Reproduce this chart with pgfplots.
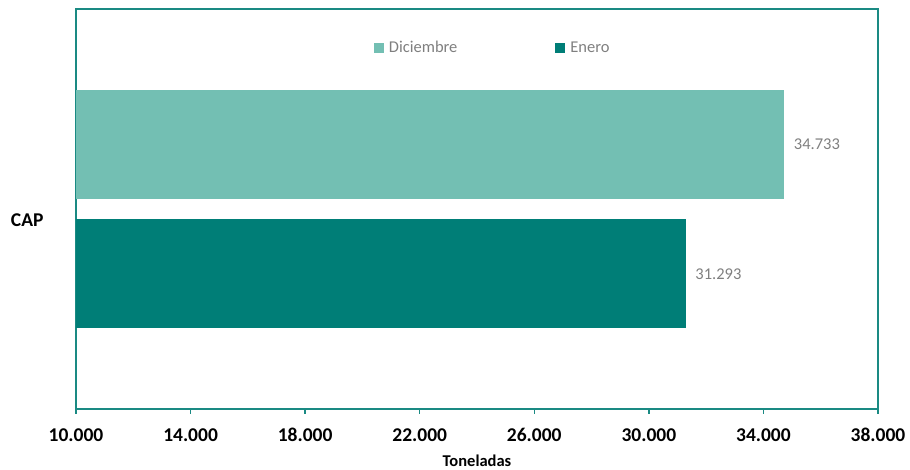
\documentclass[border=0pt]{standalone}
\usepackage{fontspec}
\setmainfont{Carlito}
\usepackage{pgfplots}
\pgfplotsset{compat=1.18}

\definecolor{dic}{HTML}{73BFB3}
\definecolor{ene}{HTML}{007E77}
\definecolor{axisteal}{HTML}{1A8A83}
\definecolor{txtgrey}{HTML}{7F7F7F}

\begin{document}
\begin{tikzpicture}
\path[use as bounding box] (-76pt,-61pt) rectangle (834pt,409pt);
\begin{axis}[
  at={(0,0)}, anchor=south west,
  scale only axis, width=802pt, height=400pt,
  xbar,
  xmin=10000, xmax=38000,
  ymin=-2, ymax=2,
  xtick={10000,14000,...,38000},
  scaled x ticks=false,
  xtick pos=bottom, tick align=outside,
  major tick length=5pt,
  ytick={0}, yticklabels={CAP},
  ytick style={draw=none},
  yticklabel style={font=\fontsize{19.5}{22}\selectfont\bfseries, xshift=-24pt, yshift=-11pt},
  xticklabel style={font=\fontsize{19.5}{22}\selectfont\bfseries, yshift=-11pt},
  /pgf/number format/.cd, fixed, precision=0, 1000 sep={.}, assume math mode=true,
  /pgfplots/.cd,
  axis line style={axisteal, line width=1.6pt},
  every tick/.style={axisteal, line width=1.4pt},
  xlabel={Toneladas},
  xlabel style={font=\fontsize{16.5}{18}\selectfont\bfseries, yshift=-6pt},
  bar width=1.09,
  nodes near coords,
  nodes near coords style={font=\fontsize{16.5}{19}\selectfont, text=txtgrey, anchor=west, xshift=6pt,
    /pgf/number format/.cd, fixed, precision=0, 1000 sep={.}, assume math mode=true},
  legend columns=2,
  legend style={draw=none, fill=none, at={(0.519,0.9025)}, anchor=center,
    font=\fontsize{16.5}{19}\selectfont, text=txtgrey,
    /tikz/every even column/.append style={column sep=97pt},
    nodes={inner sep=1pt}},
  legend image code/.code={\fill[#1, draw=none] (0pt,-5pt) rectangle (10pt,5pt);},
  legend style={/tikz/every odd column/.append style={column sep=4pt}},
]
\addplot[fill=dic, draw=none, bar shift=0.645] coordinates {(34733,0)};
\addlegendentry{Diciembre}
\addplot[fill=ene, draw=none, bar shift=-0.65] coordinates {(31293,0)};
\addlegendentry{Enero}
\end{axis}
\end{tikzpicture}
\end{document}
